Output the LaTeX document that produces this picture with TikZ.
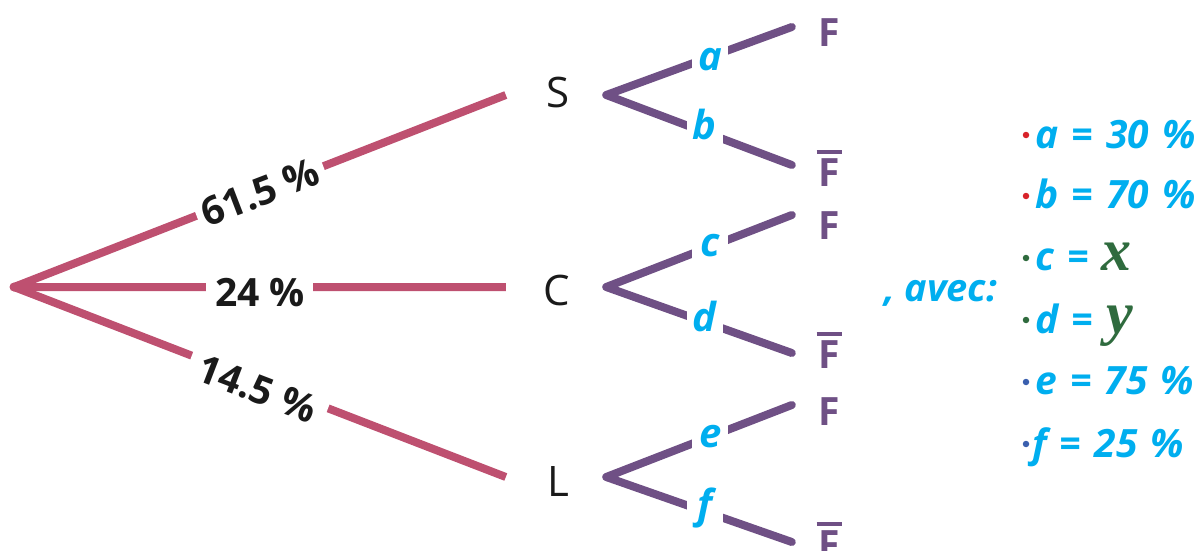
\documentclass[tikz,border=0pt]{standalone}
\usepackage{fontspec}
\setmainfont{Open Sans}
\newfontfamily\eqfont[WordSpace=1.3]{Open Sans}
\newfontfamily\cursivefont{Liberation Serif}
\definecolor{pinkl}{HTML}{BE5070}
\definecolor{purpl}{HTML}{6F5085}
\definecolor{cyanl}{HTML}{00AEEF}
\definecolor{greenl}{HTML}{2F6B3E}
\definecolor{redl}{HTML}{D8232A}
\definecolor{bluel}{HTML}{3A5FAE}
\definecolor{inkl}{HTML}{1A1A1A}
\newcommand{\barredF}{\leavevmode\vbox{\offinterlineskip\hbox{\rule{25pt}{4pt}}\kern4pt\hbox to 25pt{\hss F\hss}}}
\newcommand{\dropped}[2]{\raisebox{-#1pt}[0pt][0pt]{#2}}
\newcommand{\cursivevar}[1]{\textcolor{greenl}{\fontsize{60}{60}\selectfont\cursivefont\bfseries\itshape #1}}
\tikzset{
  pinkline/.style={draw=pinkl,line width=8pt,line join=round},
  purpline/.style={draw=purpl,line width=8pt,line cap=round,line join=round},
  pct/.style={fill=white,text=inkl,inner sep=0pt,minimum height=36pt,font=\fontsize{39}{39}\selectfont\bfseries},
  letter/.style={fill=white,text=cyanl,inner sep=0pt,minimum width=36pt,minimum height=26pt,font=\fontsize{40}{40}\selectfont\bfseries\itshape},
  stage/.style={text=inkl,minimum width=100pt,inner sep=0pt,font=\fontsize{42}{42}\selectfont},
  leaf/.style={text=purpl,minimum width=74pt,inner sep=0pt,font=\fontsize{39}{39}\selectfont\bfseries},
  eqn/.style={anchor=base west,inner sep=0pt,text=cyanl,font=\fontsize{39}{39}\selectfont\eqfont\bfseries\itshape},
  dot/.style={circle,fill=#1,inner sep=0pt,minimum size=6.5pt},
}
\begin{document}
\begin{tikzpicture}[x=1pt,y=-1pt]
\useasboundingbox (0,0) rectangle (1196,551);
\coordinate (root) at (14,287);
\node[stage] (S) at (556,95) {\hspace*{4pt}\dropped{13}{S}};
\node[stage] (C) at (556,287) {\hspace*{2pt}\dropped{18}{C}};
\node[stage] (L) at (556,477) {\hspace*{4pt}\dropped{19}{L}};
\node[leaf] (F1) at (829,27) {\dropped{20}{F}};
\node[leaf] (B1) at (829,165) {\dropped{21}{\barredF}};
\node[leaf] (F2) at (829,215) {\dropped{24}{F}};
\node[leaf] (B2) at (829,353) {\dropped{15}{\barredF}};
\node[leaf] (F3) at (829,405) {\dropped{20}{F}};
\node[leaf] (B3) at (829,542) {\dropped{16}{\barredF}};

\draw[pinkline] (S.west) -- node[pct,pos=.5,rotate=21,minimum width=136pt] {\dropped{15}{61.5 \%}} (root)
  -- node[pct,pos=.5,minimum width=107pt] {\dropped{19}{24 \%}} (C.west);
\draw[pinkline] (root) -- node[pct,pos=.5,rotate=-21,minimum width=146pt] {\dropped{21}{14.5 \%}} (L.west);
\fill[pinkl] (root) circle (4.5pt);

\draw[purpline] (F1.west) -- node[letter,pos=.44] {\dropped{14}{a}} (S.east) -- node[letter,pos=.53] {\dropped{7}{b}} (B1.west);
\draw[purpline] (F2.west) -- node[letter,pos=.44] {\dropped{10}{c}} (C.east) -- node[letter,pos=.53] {\dropped{10}{d}} (B2.west);
\draw[purpline] (F3.west) -- node[letter,pos=.44] {\dropped{11}{e}} (L.east) -- node[letter,pos=.53] {\dropped{7}{f}} (B3.west);

\node[anchor=base west,inner sep=0pt,text=cyanl,font=\fontsize{38}{38}\selectfont\bfseries\itshape] (avec) at (884,301) {, avec:};

\node[eqn] (ea) at (1035,148) {a = 30 \%};
\node[eqn] (eb) at (1035,208) {b = 70 \%};
\node[eqn] (ec) at (1035,270) {c = \cursivevar{x}};
\node[eqn] (ed) at (1035,333) {d = \cursivevar{y}};
\node[eqn] (ee) at (1035,394) {e = 75 \%};
\node[eqn] (ef) at (1032,457) {f = 25 \%};
\node[dot=redl] (da) at (1026,135) {};
\node[dot=redl] (db) at (1026,196) {};
\node[dot=greenl] (dc) at (1026,258) {};
\node[dot=greenl] (dd) at (1026,320) {};
\node[dot=bluel] (de) at (1026,382) {};
\node[dot=bluel] (df) at (1026,444) {};
\end{tikzpicture}
\end{document}
